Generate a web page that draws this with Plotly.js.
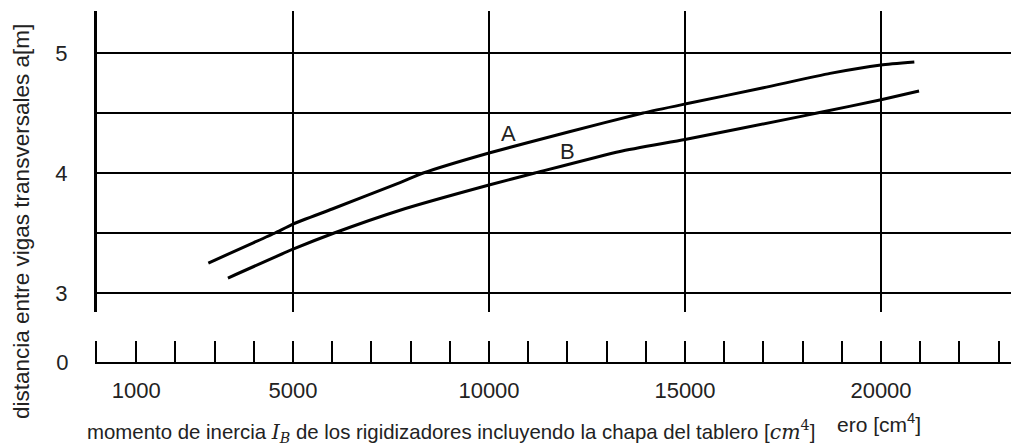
<!DOCTYPE html>
<html>
<head>
<meta charset="utf-8">
<script src="https://cdn.plot.ly/plotly-3.0.1.min.js"></script>
<style>
  body { margin: 0; background: #fff; }
  #chart { width: 1011px; height: 447px; }
</style>
</head>
<body>
<div id="chart"></div>
<script>
// curve A
let aInercia = [2840, 4000, 4540, 5000, 6000, 7730, 8320, 10000, 12000, 13930, 15000, 17000, 18700, 20000, 20850];
let aDist = [3.25, 3.42, 3.50, 3.575, 3.70, 3.92, 4.00, 4.167, 4.34, 4.50, 4.575, 4.71, 4.83, 4.90, 4.925];

// curve B
let bInercia = [3340, 5000, 6050, 7730, 10000, 11170, 13340, 15000, 17930, 18370, 20000, 20970];
let bDist = [3.125, 3.365, 3.50, 3.69, 3.90, 4.00, 4.18, 4.28, 4.47, 4.50, 4.61, 4.683];

let xTickVals = [1000, 5000, 10000, 15000, 20000];
let xTickText = ["1000", "5000", "10000", "15000", "20000"];
let xGridVals = [5000, 10000, 15000, 20000];
let yTickVals = [3, 4, 5];

let ink = "#000";
let txt = "#222";
let fontFam = "Liberation Sans, Arial, sans-serif";

let traceA = {
    x: aInercia,
    y: aDist,
    type: "scatter",
    mode: "lines",
    line: { color: ink, width: 3, shape: "spline", smoothing: 0.5 },
    xaxis: "x",
    yaxis: "y",
    name: "A"
}

let traceB = {
    x: bInercia,
    y: bDist,
    type: "scatter",
    mode: "lines",
    line: { color: ink, width: 3, shape: "spline", smoothing: 0.5 },
    xaxis: "x",
    yaxis: "y",
    name: "B"
}

// empty trace so the bottom scale gets drawn
let scaleTrace = {
    x: [],
    y: [],
    type: "scatter",
    mode: "lines",
    xaxis: "x2",
    yaxis: "y2",
    hoverinfo: "skip"
}

let layout = {
    width: 1011,
    height: 447,
    margin: { l: 97, r: 0, t: 11, b: 85 },
    paper_bgcolor: "#fff",
    plot_bgcolor: "#fff",
    showlegend: false,
    font: { family: fontFam, size: 22, color: txt },

    xaxis: {
        domain: [0, 1],
        anchor: "y",
        range: [0, 23316],
        tickvals: xGridVals,
        showticklabels: false,
        ticks: "",
        showgrid: true,
        gridcolor: ink,
        gridwidth: 2,
        zeroline: false,
        showline: false
    },

    yaxis: {
        domain: [0.1425, 1],
        anchor: "x",
        range: [2.842, 5.35],
        tickvals: yTickVals,
        ticks: "",
        ticklabelstandoff: 22,
        showgrid: true,
        gridcolor: ink,
        gridwidth: 2,
        minor: { dtick: 0.5, tick0: 3, showgrid: true, gridcolor: ink, gridwidth: 2, ticks: "" },
        zeroline: false,
        showline: true,
        linecolor: ink,
        linewidth: 3
    },

    xaxis2: {
        domain: [0, 1],
        anchor: "y2",
        range: [0, 23316],
        tickvals: xTickVals,
        ticktext: xTickText,
        ticks: "inside",
        ticklen: 21,
        tickwidth: 2,
        tickcolor: ink,
        ticklabelstandoff: 8,
        minor: { dtick: 1000, tick0: 0, ticks: "inside", ticklen: 21, tickwidth: 2, tickcolor: ink },
        showgrid: false,
        zeroline: false,
        showline: true,
        linecolor: ink,
        linewidth: 2
    },

    yaxis2: {
        domain: [0, 0.06],
        anchor: "x2",
        range: [0, 1],
        tickvals: [0],
        ticktext: ["0"],
        ticks: "",
        ticklabelstandoff: 22,
        showgrid: false,
        zeroline: false,
        showline: true,
        linecolor: ink,
        linewidth: 2
    },

    annotations: [
        {
            text: "A", xref: "x", yref: "y", x: 10485, y: 4.333,
            xanchor: "center", yanchor: "middle",
            showarrow: false, font: { size: 22, color: txt }
        },
        {
            text: "B", xref: "x", yref: "y", x: 11990, y: 4.18,
            xanchor: "center", yanchor: "middle",
            showarrow: false, font: { size: 22, color: txt }
        },
        {
            text: "distancia entre vigas transversales a[m]",
            xref: "paper", yref: "paper",
            x: -0.082, xanchor: "center", y: 0.399, yanchor: "middle", textangle: -90,
            showarrow: false, font: { size: 22.5, color: txt }
        },
        {
            text: "momento de inercia <span style=\"font-family:DejaVu Serif, serif\"><i>I<sub>B</sub></i></span> de los rigidizadores incluyendo la chapa del tablero [<span style=\"font-family:DejaVu Serif, serif\"><i>cm</i><sup>4</sup></span>]",
            xref: "paper", yref: "paper",
            x: -0.0131, xanchor: "left", y: -0.199, yanchor: "middle",
            showarrow: false, font: { size: 20.4, color: txt }
        },
        {
            text: "ero [cm<sup>4</sup>]",
            xref: "paper", yref: "paper",
            x: 0.8075, xanchor: "left", y: -0.175, yanchor: "middle",
            showarrow: false, font: { size: 21, color: txt }
        }
    ]
}

Plotly.newPlot("chart", [traceA, traceB, scaleTrace], layout, { staticPlot: true });
</script>
</body>
</html>
